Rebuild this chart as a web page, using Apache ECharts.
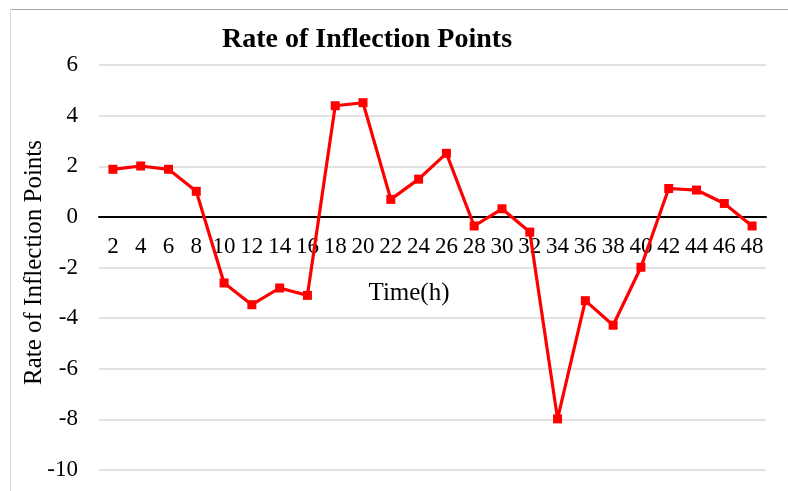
<!DOCTYPE html>
<html>
<head>
<meta charset="utf-8">
<title>Rate of Inflection Points</title>
<script src="https://cdn.jsdelivr.net/npm/echarts@6/dist/echarts.min.js"></script>
<style>
    html, body { margin: 0; padding: 0; background: #ffffff; }
    #chart { width: 788px; height: 491px; }
</style>
</head>
<body>
<div id="chart"></div>
<script>
// Rate of inflection points over time

var hours = ['2', '4', '6', '8', '10', '12', '14', '16', '18', '20', '22', '24',
    '26', '28', '30', '32', '34', '36', '38', '40', '42', '44', '46', '48'];
var rates = [1.88, 2.01, 1.88, 1.01, -2.61, -3.47, -2.81, -3.10, 4.39, 4.51, 0.69, 1.49,
    2.51, -0.36, 0.32, -0.60, -7.98, -3.31, -4.28, -1.99, 1.12, 1.06, 0.53, -0.36];
var yMin = -10, yMax = 6, yStep = 2;

var serif = '"Liberation Serif", "Times New Roman", serif';

var gridTop = 65, gridBottom = 21, chartHeight = 491;
var plotHeight = chartHeight - gridTop - gridBottom;
// lift the category axis (line + labels + name) up to y = 0
var zeroLift = plotHeight * (0 - yMin) / (yMax - yMin);

var myChart = echarts.init(document.getElementById('chart'));
var option = {
    animation: false,
    title: {
        text: 'Rate of Inflection Points',
        left: 362,
        textAlign: 'center',
        top: 21,
        textStyle: {
            fontFamily: serif,
            fontSize: 28,
            fontWeight: 'bold',
            color: '#000000'
        }
    },
    grid: {
        left: 99,
        right: 22,
        top: gridTop,
        bottom: gridBottom,
        containLabel: false,
        outerBoundsMode: 'none'
    },
    graphic: [
        {
            type: 'line',
            shape: { x1: 10, y1: 9.5, x2: 788, y2: 9.5 },
            style: { stroke: '#a6a6a6', lineWidth: 1 }
        },
        {
            type: 'line',
            shape: { x1: 10.5, y1: 9, x2: 10.5, y2: 491 },
            style: { stroke: '#d9d9d9', lineWidth: 1 }
        }
    ],
    xAxis: {
        type: 'category',
        data: hours,
        boundaryGap: true,
        position: 'bottom',
        offset: -zeroLift,
        name: 'Time(h)',
        nameLocation: 'middle',
        nameGap: 64,
        nameTextStyle: {
            fontFamily: serif,
            fontSize: 25,
            color: '#000000',
            padding: [0, 47, 0, 0]
        },
        axisLine: {
            onZero: false,
            lineStyle: { color: '#000000', width: 2 }
        },
        axisTick: { show: false },
        axisLabel: {
            interval: 0,
            margin: 19,
            fontFamily: serif,
            fontSize: 23,
            color: '#000000'
        }
    },
    yAxis: {
        type: 'value',
        min: yMin,
        max: yMax,
        interval: yStep,
        name: 'Rate of Inflection Points',
        nameLocation: 'middle',
        nameGap: 52,
        nameMoveOverlap: false,
        nameTextStyle: {
            fontFamily: serif,
            fontSize: 25,
            color: '#000000',
            padding: [0, 0, 0, 10]
        },
        axisLine: { show: false },
        axisTick: { show: false },
        splitLine: {
            show: true,
            lineStyle: { color: '#d9d9d9', width: 1.5 }
        },
        axisLabel: {
            margin: 21,
            fontFamily: serif,
            fontSize: 23,
            color: '#000000'
        }
    },
    series: [
        {
            name: 'Rate',
            type: 'line',
            data: rates,
            symbol: 'rect',
            symbolSize: 9,
            itemStyle: { color: '#ff0000' },
            lineStyle: { color: '#ff0000', width: 3.2 }
        }
    ]
};

myChart.setOption(option);
window.onresize = myChart.resize;
</script>
</body>
</html>
